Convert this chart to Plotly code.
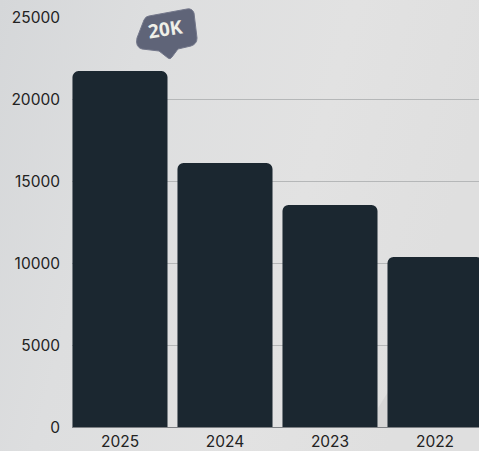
import base64
import plotly.graph_objects as go

years = ["2025", "2024", "2023", "2022"]
values = [21700, 16100, 13540, 10370]
y_ticks = [0, 5000, 10000, 15000, 20000, 25000]

W, H = 479, 451
L, T, B = 72, 16, 24
PW, PH = W - L, H - T - B
FONT = "Inter"

svg = f'''<svg xmlns="http://www.w3.org/2000/svg" width="{W}" height="{H}">
<defs><linearGradient id="g" x1="0" y1="0" x2="1" y2="0.25">
<stop offset="0" stop-color="#d5d7d9"/><stop offset="0.3" stop-color="#dddedf"/>
<stop offset="0.7" stop-color="#e2e2e2"/><stop offset="1" stop-color="#dfdfdf"/>
</linearGradient></defs>
<rect width="{W}" height="{H}" fill="url(#g)"/>
<path d="M378 408 L388 392 L388 427 L378 427 Z" fill="#d6d6d6"/>
</svg>'''
bg = "data:image/svg+xml;base64," + base64.b64encode(svg.encode()).decode()


def pp(x, y):
    return (x - L) / PW, 1 - (y - T) / PH


def badge_path():
    c = [
        "M", (149, 16), "Q", (146, 16), (144, 20),
        "L", (137, 38), "Q", (135, 47), (142, 49),
        "L", (159, 51), "L", (168, 58), "Q", (170, 60), (172, 57),
        "L", (178, 49), "L", (191, 46), "Q", (197, 44), (197, 38),
        "L", (194, 13), "Q", (192, 8), (187, 9), "Z",
    ]
    out = []
    for e in c:
        if isinstance(e, str):
            out.append(e)
        else:
            a, b = pp(*e)
            out.append(f"{a:.5f},{b:.5f}")
    return " ".join(out)


fig = go.Figure(
    go.Bar(
        x=years,
        y=values,
        marker=dict(color="#1b2730", line=dict(width=0), cornerradius=6),
        width=0.905,
        hoverinfo="skip",
    )
)

tx, ty = pp(165, 29)
ix, iy = pp(0, 0)
fig.update_layout(
    width=W,
    height=H,
    margin=dict(l=L, r=0, t=T, b=B, pad=0),
    paper_bgcolor="#dedfe0",
    plot_bgcolor="rgba(0,0,0,0)",
    showlegend=False,
    font=dict(family=FONT, size=15.5, color="#222222"),
    images=[
        dict(
            source=bg, xref="paper", yref="paper", x=ix, y=iy,
            sizex=W / PW, sizey=H / PH, xanchor="left", yanchor="top",
            sizing="stretch", layer="below",
        )
    ],
    shapes=[
        dict(
            type="path", xref="paper", yref="paper", path=badge_path(),
            fillcolor="#5f6478", line=dict(color="#73778a", width=1), layer="above",
        )
    ],
    annotations=[
        dict(
            text="<b>20K</b>", xref="paper", yref="paper",
            x=tx, y=ty, showarrow=False,
            textangle=-9, xanchor="center", yanchor="middle",
            font=dict(family="Open Sans", size=19, color="#efefe8"),
        )
    ],
)

fig.update_xaxes(
    type="category",
    categoryorder="array",
    categoryarray=years,
    range=[-0.457, 3.419],
    showgrid=False,
    showline=True,
    linecolor="#7d8084",
    linewidth=1,
    ticks="",
    ticklabelstandoff=0,
    tickfont=dict(family=FONT, size=15.5, color="#222222"),
    fixedrange=True,
)
fig.update_yaxes(
    range=[0, 25000 * PH / 410],
    tickvals=y_ticks,
    ticktext=[str(v) for v in y_ticks],
    showgrid=True,
    gridcolor="#b5b7b8",
    gridwidth=1,
    showline=False,
    zeroline=False,
    ticks="",
    ticklabelstandoff=11,
    ticklabelshift=1,
    tickfont=dict(family=FONT, size=15.5, color="#222222"),
    fixedrange=True,
)

fig.write_html(
    "out.html",
    config=dict(displayModeBar=False),
    post_script="document.body.style.margin='0';document.documentElement.style.overflow='hidden';",
)
